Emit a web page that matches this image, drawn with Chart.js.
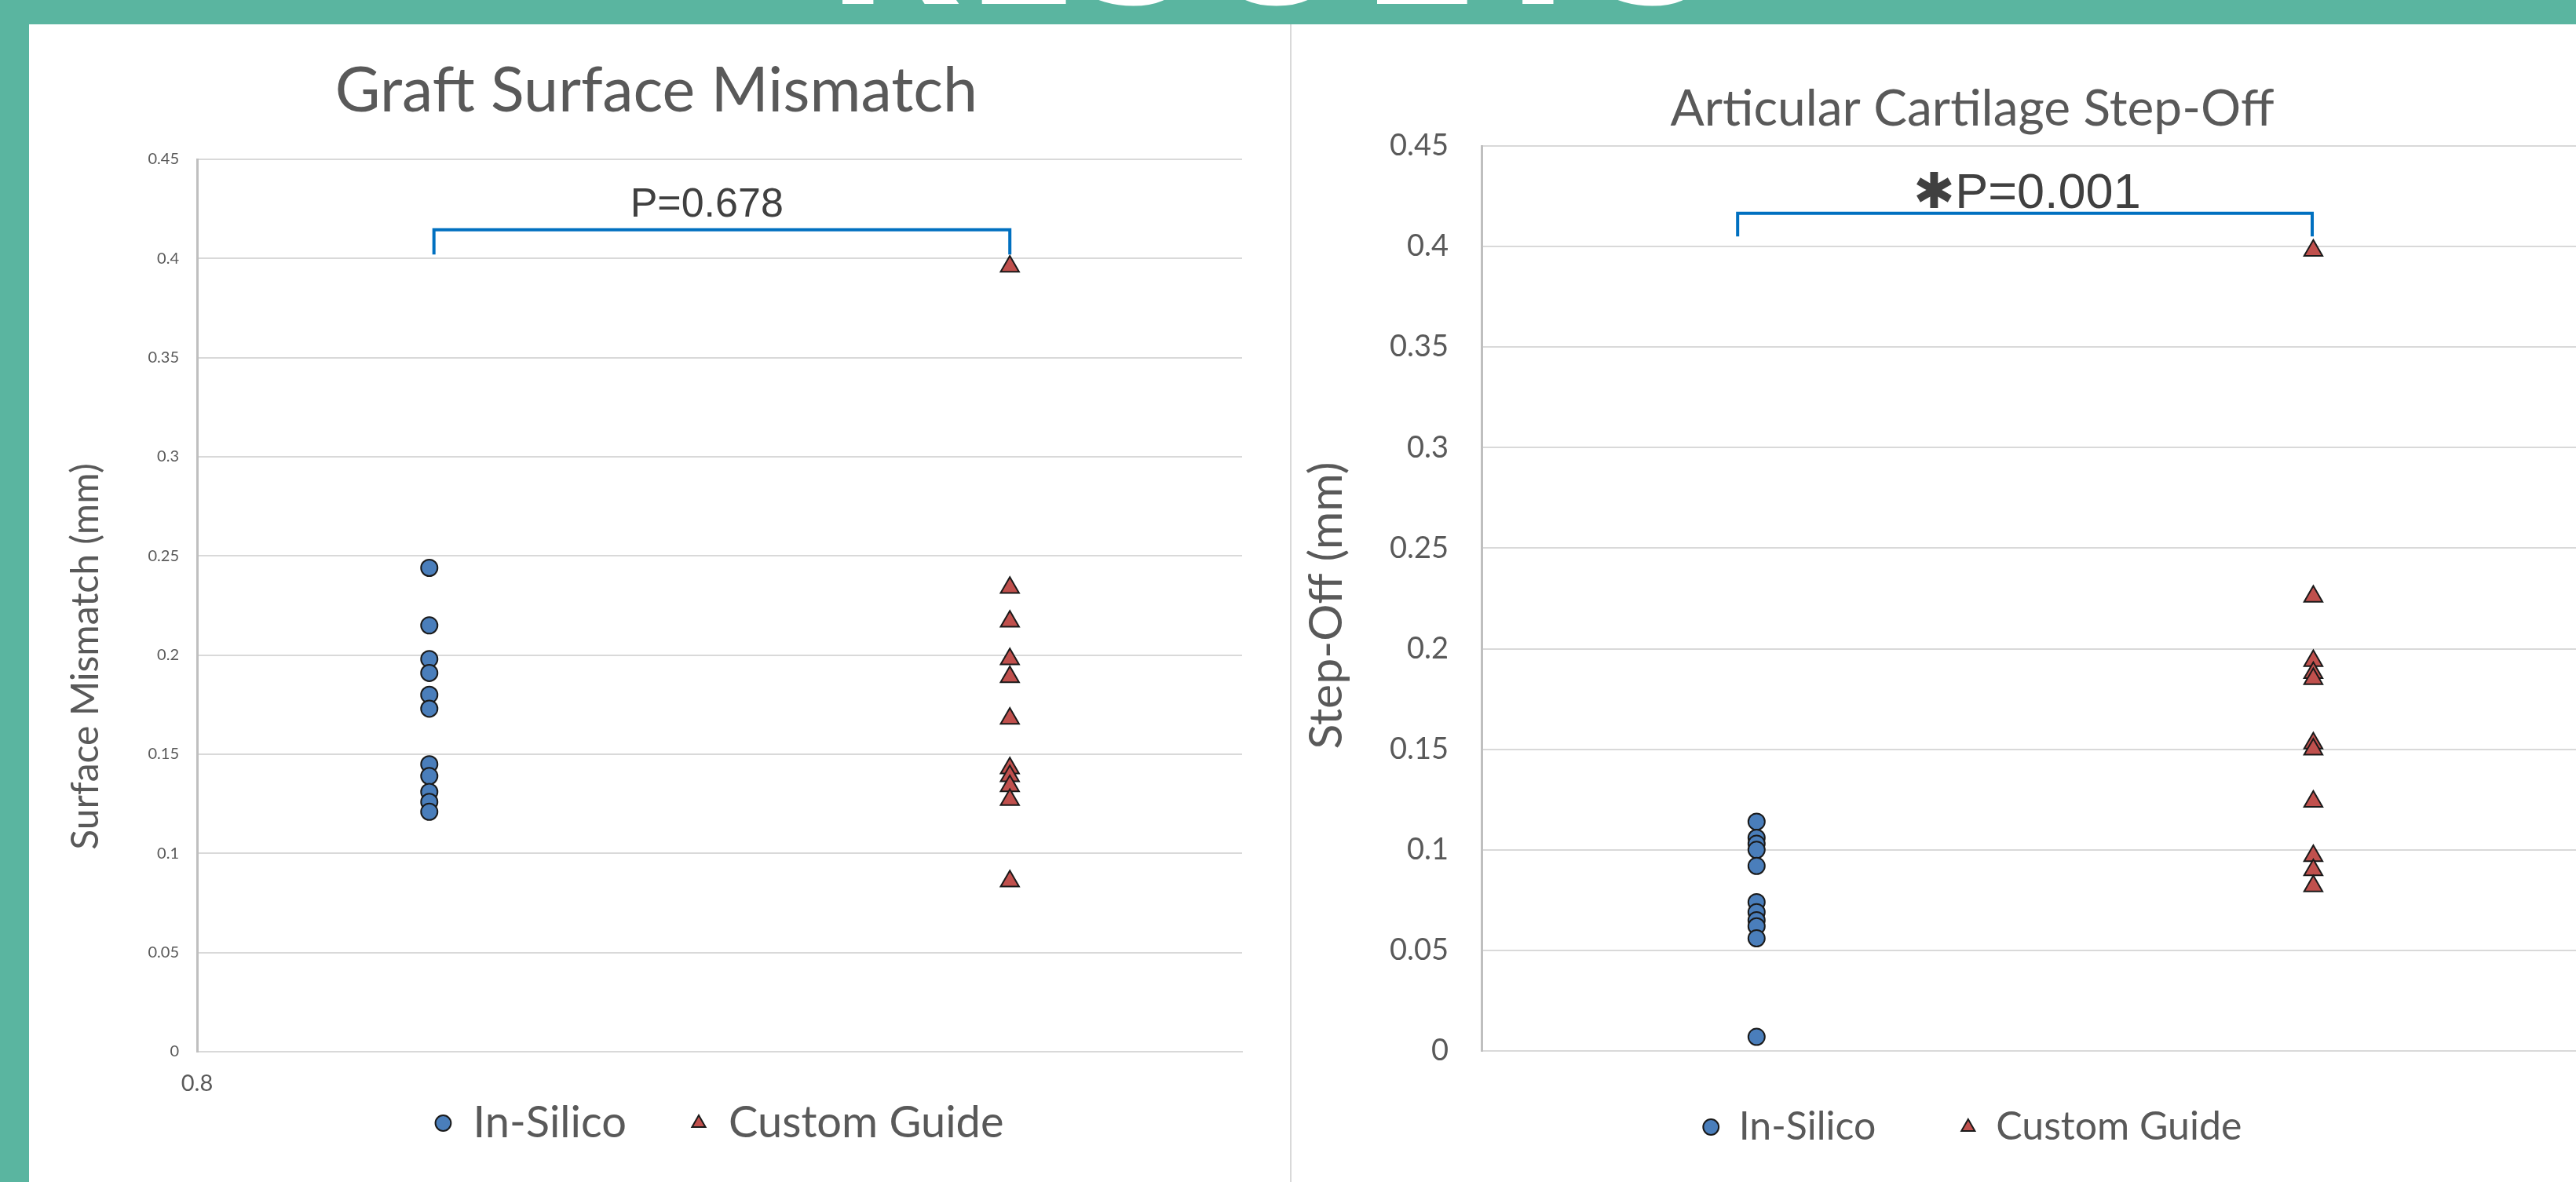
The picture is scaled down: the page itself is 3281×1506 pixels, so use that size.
<!DOCTYPE html>
<html>
<head>
<meta charset="utf-8">
<script src="https://cdn.jsdelivr.net/npm/chart.js@4.4.0/dist/chart.umd.min.js"></script>
<style>
  html, body { margin: 0; padding: 0; }
  body { width: 3281px; height: 1506px; background: #5ab5a0; overflow: hidden; position: relative; }
  #banner { position: absolute; left: -21px; width: 3281px; top: -226px; text-align: center; color: #fff;
            font: bold 260px "Open Sans", sans-serif; line-height: 260px; letter-spacing: 6px; }
  .panel { position: absolute; top: 31px; height: 1475px; background: #fff; overflow: hidden; }
  #leftPanel { left: 37px; width: 1606px; }
  #rightPanel { left: 1643px; width: 1636px; border-left: 2px solid #d9d9d9; }
  canvas { display: block; }
</style>
</head>
<body>
<div id="banner">RESULTS</div>
<div class="panel" id="leftPanel"><canvas id="mismatchChart" width="1606" height="1475"></canvas></div>
<div class="panel" id="rightPanel"><canvas id="stepOffChart" width="1856" height="1475"></canvas></div>

<script>
// x position of each group
const inSilicoX = 1;
const customGuideX = 1.5;

// Graft surface mismatch (mm)
const mismatchInSilico = [0.244, 0.215, 0.198, 0.191, 0.180, 0.173, 0.145, 0.139, 0.131, 0.126, 0.121];
const mismatchCustom = [0.396, 0.234, 0.217, 0.198, 0.189, 0.168, 0.143, 0.139, 0.134, 0.127, 0.086];

// Articular cartilage step-off (mm)
const stepOffInSilico = [0.114, 0.106, 0.103, 0.100, 0.092, 0.074, 0.069, 0.065, 0.062, 0.056, 0.007];
const stepOffCustom = [0.398, 0.226, 0.194, 0.188, 0.185, 0.153, 0.150, 0.124, 0.097, 0.090, 0.082];

const yTickLabels = ['0', '0.05', '0.1', '0.15', '0.2', '0.25', '0.3', '0.35', '0.4', '0.45'];
const xTickLabels = ['0.8'];

// significance brackets and p-values
const mismatchBracketX = [1.004, 1.004, 1.5, 1.5];
const mismatchBracketY = [0.402, 0.4145, 0.4145, 0.402];
const mismatchPText = 'P=0.678';
const mismatchPAt = [1.239, 0.4266];

const stepOffBracketX = [0.983, 0.983, 1.499, 1.499];
const stepOffBracketY = [0.405, 0.4165, 0.4165, 0.405];
const stepOffPText = '\u2731P=0.001';
const stepOffPAt = [1.243, 0.4258];

const gray = '#595959';

const pValuePlugin = {
  id: 'pValue',
  afterDatasetsDraw(chart, args, opts) {
    const { ctx, scales: { x, y } } = chart;
    ctx.save();
    ctx.font = opts.size + 'px "Liberation Sans", Arial, sans-serif';
    ctx.fillStyle = '#404040';
    ctx.textAlign = 'center';
    ctx.textBaseline = 'middle';
    ctx.fillText(opts.text, x.getPixelForValue(opts.at[0]), y.getPixelForValue(opts.at[1]));
    ctx.restore();
  }
};

// vertical axis title, placed relative to the plot area
const axisTitlePlugin = {
  id: 'axisTitle',
  afterDraw(chart, args, opts) {
    const { ctx, chartArea } = chart;
    ctx.save();
    ctx.translate(chartArea.left + opts.dx, (chartArea.top + chartArea.bottom) / 2 + opts.dy);
    ctx.rotate(-Math.PI / 2);
    ctx.font = opts.size + 'px Lato, sans-serif';
    ctx.fillStyle = gray;
    ctx.textAlign = 'center';
    ctx.textBaseline = 'middle';
    ctx.fillText(opts.text, 0, 0);
    ctx.restore();
  }
};

function makeChart(id, cfg) {
  return new Chart(document.getElementById(id), {
    type: 'scatter',
    data: {
      datasets: [
        {
          label: 'In-Silico',
          data: cfg.inSilico.map(v => ({ x: inSilicoX, y: v })),
          pointStyle: 'circle',
          pointRadius: 10.5,
          pointBackgroundColor: '#4a7ebb',
          pointBorderColor: '#1a1a1a',
          pointBorderWidth: 2
        },
        {
          label: 'Custom Guide',
          data: cfg.custom.map(v => ({ x: customGuideX, y: v })),
          pointStyle: 'triangle',
          pointRadius: 13.5,
          pointBackgroundColor: '#c0504d',
          pointBorderColor: '#1a1a1a',
          pointBorderWidth: 2
        },
        {
          label: 'bracket',
          data: cfg.bracketX.map((x, i) => ({ x: x, y: cfg.bracketY[i] })),
          showLine: true,
          pointRadius: 0,
          borderColor: '#0070c0',
          borderWidth: 4,
          borderJoinStyle: 'miter'
        }
      ]
    },
    options: {
      responsive: false,
      animation: false,
      layout: { padding: { left: cfg.padLeft, top: 0, right: cfg.padRight, bottom: cfg.padBottom } },
      plugins: {
        tooltip: { enabled: false },
        title: {
          display: true,
          text: cfg.title,
          color: gray,
          font: { family: 'Lato', size: cfg.titleSize, weight: 'normal', lineHeight: 1 },
          padding: { top: cfg.titlePadTop, bottom: cfg.titlePadBottom }
        },
        legend: {
          position: 'bottom',
          fullSize: cfg.legendFull,
          labels: {
            usePointStyle: true,
            boxWidth: cfg.legendBox,
            boxHeight: 14,
            padding: cfg.legendPad,
            color: gray,
            font: { family: 'Lato', size: cfg.legendSize },
            filter: item => item.datasetIndex < 2
          }
        },
        pValue: { text: cfg.pText, at: cfg.pAt, size: cfg.pSize },
        axisTitle: { text: cfg.yTitle, size: cfg.yTitleSize, dx: cfg.yTitleDx, dy: cfg.yTitleDy }
      },
      scales: {
        x: {
          type: 'linear',
          min: cfg.xMin,
          max: cfg.xMax,
          afterBuildTicks: s => { s.ticks = xTickLabels.map(t => ({ value: parseFloat(t) })); },
          afterFit: s => { s.height = cfg.xHeight; },
          grid: { display: false, drawTicks: false },
          border: { color: '#d9d9d9', width: 2 },
          ticks: {
            display: cfg.showXTicks,
            // mirrored so the label is not clipped by the collapsed axis box
            mirror: true,
            padding: -58,
            color: gray,
            font: { family: 'Lato', size: 29 },
            callback: (v, i) => xTickLabels[i]
          }
        },
        y: {
          min: 0,
          max: 0.45,
          afterBuildTicks: s => { s.ticks = yTickLabels.map(t => ({ value: parseFloat(t) })); },
          afterFit: s => { s.width = cfg.yWidth; },
          grid: { color: '#d9d9d9', lineWidth: 2, drawTicks: false },
          border: { color: '#bfbfbf', width: 3 },
          ticks: {
            padding: cfg.tickPad,
            color: gray,
            font: { family: 'Lato', size: cfg.tickSize },
            callback: (v, i) => yTickLabels[i]
          }
        }
      }
    },
    plugins: [pValuePlugin, axisTitlePlugin]
  });
}

makeChart('mismatchChart', {
  title: 'Graft Surface Mismatch',
  yTitle: 'Surface Mismatch (mm)',
  inSilico: mismatchInSilico,
  custom: mismatchCustom,
  bracketX: mismatchBracketX,
  bracketY: mismatchBracketY,
  pText: mismatchPText,
  pAt: mismatchPAt,
  pSize: 52,
  xMin: 0.8, xMax: 1.7,
  showXTicks: true,
  titleSize: 79, titlePadTop: 46, titlePadBottom: 47,
  tickSize: 20, tickPad: 23,
  yWidth: 161, yTitleSize: 48, yTitleDx: -141, yTitleDy: 65,
  legendFull: false, legendBox: 20, legendPad: 82, legendSize: 56,
  xHeight: -19,
  padLeft: 53, padRight: 61, padBottom: 18
});

makeChart('stepOffChart', {
  title: 'Articular Cartilage Step-Off',
  yTitle: 'Step-Off (mm)',
  inSilico: stepOffInSilico,
  custom: stepOffCustom,
  bracketX: stepOffBracketX,
  bracketY: stepOffBracketY,
  pText: stepOffPText,
  pAt: stepOffPAt,
  pSize: 63,
  xMin: 0.753, xMax: 1.805,
  showXTicks: false,
  titleSize: 64, titlePadTop: 76, titlePadBottom: 15,
  tickSize: 38, tickPad: 42,
  yWidth: 242, yTitleSize: 59, yTitleDx: -197, yTitleDy: 9,
  legendFull: true, legendBox: 21, legendPad: 107, legendSize: 50,
  xHeight: -35,
  padLeft: 0, padRight: 122, padBottom: 0
});
</script>
</body>
</html>
